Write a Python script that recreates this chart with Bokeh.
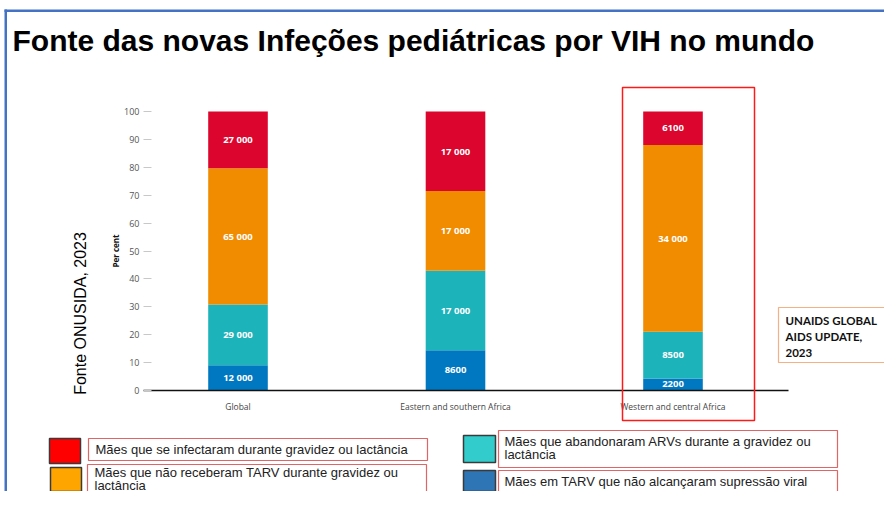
import numpy as np
from bokeh.plotting import figure
from bokeh.models import (Range1d, FixedTicker, Label, BoxAnnotation,
                          ColumnDataSource, LabelSet, LinearAxis)
from bokeh.embed import file_html
from bokeh.resources import INLINE
from bokeh.core.properties import value

# ---------------- data ----------------
regions = ["Global", "Eastern and southern Africa", "Western and central Africa"]
on_art_not_suppressed = [12000, 8600, 2200]      # blue (bottom)
stopped_arv = [29000, 17000, 8500]               # teal
no_art = [65000, 17000, 34000]                   # orange
infected_during = [27000, 17000, 6100]           # red (top)
y_ticks = [0, 10, 20, 30, 40, 50, 60, 70, 80, 90, 100]

series_names = [
    "Mães em TARV que não alcançaram supressão viral",
    "Mães que abandonaram ARVs durante a gravidez ou lactância",
    "Mães que não receberam TARV durante gravidez ou lactância",
    "Mães que se infectaram durante gravidez ou lactância",
]
bar_colors = ["#0078c1", "#1db3bb", "#f18c00", "#dc052d"]
legend_colors = ["#2e75b6", "#33cccc", "#ffa500", "#ff0000"]

title_text = "Fonte das novas Infeções pediátricas por VIH no mundo"
source_text = "Fonte ONUSIDA, 2023"
ref_lines = ["UNAIDS GLOBAL", "AIDS UPDATE,", "2023"]

# ---------------- layout ----------------
W, H = 884, 491
FL, FR, FT, FB = 143, 788, 111, 390   # chart area in canvas pixels
BAR0_PX, BAR_STEP_PX = 237.5, 217.5   # x of first bar centre, spacing

# whole canvas is the frame; default ranges are canvas pixels (y downwards)
p = figure(width=W, height=H, output_backend="svg", toolbar_location=None,
           x_range=Range1d(0, W), y_range=Range1d(H, 0),
           x_axis_type=None, y_axis_type=None, min_border=0)
p.outline_line_color = None
p.background_fill_color = "white"
p.border_fill_color = "white"

# chart ranges mapped over the canvas
bx0 = (0 - BAR0_PX) / BAR_STEP_PX
bx1 = (W - BAR0_PX) / BAR_STEP_PX
pp = 100.0 / (FB - FT)
p.extra_x_ranges = {"bx": Range1d(bx0, bx1)}
p.extra_y_ranges = {"pct": Range1d((FB - H) * pp, FB * pp)}
xb0 = (FL - BAR0_PX) / BAR_STEP_PX
xb1 = (FR - BAR0_PX) / BAR_STEP_PX

# y axis
ya = LinearAxis(y_range_name="pct", fixed_location=FL, bounds=(0, 100))
ya.ticker = FixedTicker(ticks=y_ticks)
ya.axis_line_color = None
ya.major_tick_in = 8
ya.major_tick_out = 0
ya.major_tick_line_color = "#c8c8c8"
ya.minor_tick_line_color = None
ya.major_label_text_font = "Open Sans"
ya.major_label_text_font_size = "9px"
ya.major_label_text_color = "#555555"
ya.major_label_standoff = 4
ya.axis_label = "Per cent"
ya.axis_label_text_font = "Open Sans"
ya.axis_label_text_font_style = "bold"
ya.axis_label_text_font_size = "8px"
ya.axis_label_text_color = "#111111"
ya.axis_label_standoff = 0
p.add_layout(ya, "left")

# x axis
xa = LinearAxis(x_range_name="bx", fixed_location=FB, bounds=(xb0, xb1))
xa.ticker = FixedTicker(ticks=list(range(len(regions))))
xa.major_label_overrides = {i: r for i, r in enumerate(regions)}
xa.major_tick_in = 0
xa.major_tick_out = 0
xa.minor_tick_line_color = None
xa.axis_line_color = "#111111"
xa.axis_line_width = 1.6
xa.major_label_text_font = "Open Sans"
xa.major_label_text_font_size = "8.5px"
xa.major_label_text_color = "#444444"
xa.major_label_standoff = 10
p.add_layout(xa, "below")

# ---------------- bars ----------------
vals = np.array([on_art_not_suppressed, stopped_arv, no_art, infected_during], float)
totals = vals.sum(axis=0)
pct = vals / totals * 100
tops = np.cumsum(pct, axis=0)
bottoms = tops - pct
xs = list(range(len(regions)))


def fmt(v):
    v = int(v)
    return f"{v:,}".replace(",", " ") if v >= 10000 else str(v)


lab_x, lab_y, lab_t = [], [], []
for k in range(vals.shape[0]):
    src = ColumnDataSource(dict(x=xs, bottom=bottoms[k], top=tops[k]))
    p.vbar(x="x", bottom="bottom", top="top", width=0.274, source=src,
           fill_color=bar_colors[k], line_color=None,
           x_range_name="bx", y_range_name="pct")
    for j in range(len(regions)):
        lab_x.append(xs[j])
        lab_y.append(bottoms[k][j] + pct[k][j] / 2)
        lab_t.append(fmt(vals[k][j]))

lsrc = ColumnDataSource(dict(x=lab_x, y=lab_y, t=lab_t))
p.add_layout(LabelSet(x="x", y="y", text="t", source=lsrc,
                      x_range_name="bx", y_range_name="pct",
                      text_align="center", text_baseline="middle",
                      text_color="white", text_font=value("Open Sans"),
                      text_font_style="bold", text_font_size="9.5px"))


# ---------------- annotations (canvas pixel coordinates) ----------------
def box(l, r, t, b, fill=None, line=None, lw=1.0):
    p.add_layout(BoxAnnotation(left=l, right=r, top=t, bottom=b,
                               fill_color=fill if fill else "white",
                               fill_alpha=1.0 if fill else 0.0,
                               line_color=line if line else "white",
                               line_width=lw, line_alpha=1.0 if line else 0.0,
                               level="overlay"))


def label(x, y, text, size, font="Liberation Sans", style="normal", color="#111111",
          align="left", baseline="middle", angle=0):
    p.add_layout(Label(x=x, y=y, text=text,
                       text_font=font, text_font_size=size, text_font_style=style,
                       text_color=color, text_align=align, text_baseline=baseline,
                       angle=angle, angle_units="deg"))


# blue slide frame
box(4, W, 9, 11.5, fill="#4472c4")
box(4, 6.5, 9, H, fill="#4472c4")

# title
label(12, 40, title_text, "30px", style="bold", color="#000000", baseline="alphabetic")

# source note (rotated)
label(80, 313, source_text, "16px", color="#000000", align="center", angle=90)

# red highlight rectangle
box(622, 754, 87, 420, line="#ff1a1a", lw=1.5)

# UNAIDS reference box
box(778, 900, 307, 362, line="#f4b183", lw=1.2)
for i, t in enumerate(ref_lines):
    label(785, 320 + 16 * i, t, "11.5px", font="Lato", style="bold", color="#111111")

# legend: squares + red-bordered text boxes
sq = [  # (left, right, top, bottom) per series index
    (463, 495, 470, 491),   # blue
    (463, 495, 435, 462),   # teal
    (50, 81, 467, 491),     # orange
    (49, 80, 438, 463),     # red
]
for k in range(4):
    l, r, t, b = sq[k]
    box(l, r, t, b, fill=legend_colors[k], line="#3a3a3a", lw=1.5)

tb = [
    (498, 837, 470, 495),
    (498, 837, 430, 467),
    (87, 426, 464, 500),
    (88, 427, 438, 460),
]
for k in range(4):
    l, r, t, b = tb[k]
    box(l, r, t, b, line="#e06666", lw=1.2)

legend_lines = [
    ["Mães em TARV que não alcançaram supressão viral"],
    ["Mães que abandonaram ARVs durante a gravidez ou", "lactância"],
    ["Mães que não receberam TARV durante gravidez ou", "lactância"],
    ["Mães que se infectaram durante gravidez ou lactância"],
]
legend_pos = [(504, 481), (504, 441), (94, 472), (95, 449)]
for k in range(4):
    x0, y0 = legend_pos[k]
    for i, t in enumerate(legend_lines[k]):
        label(x0, y0 + 12.5 * i, t, "13px", color="#222222")

open("out.html", "w").write(file_html(p, INLINE))
